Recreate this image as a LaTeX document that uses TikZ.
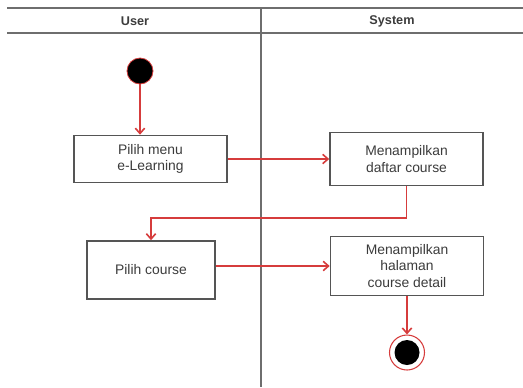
\documentclass[tikz,border=0pt]{standalone}
\usepackage{fontspec}
\setmainfont{Liberation Sans}
\usetikzlibrary{arrows.meta}
\definecolor{flowred}{RGB}{214,60,60}
\definecolor{boxgray}{RGB}{85,85,85}
\definecolor{txtgray}{RGB}{60,60,60}
\definecolor{lanegray}{RGB}{110,110,110}
\tikzset{
  actbox/.style={draw=boxgray, line width=1.2pt, fill=white, align=center, text=txtgray,
    font=\fontsize{10.4}{12.3}\selectfont, inner sep=0pt},
  arr/.style={draw=flowred, line width=1.2pt, -{Straight Barb[length=4pt,width=7pt]}},
  lane/.style={draw=lanegray, line width=1.4pt},
  head/.style={font=\fontsize{9.5}{11}\selectfont\bfseries, text=txtgray}
}
\begin{document}
\begin{tikzpicture}[x=0.75pt,y=-0.75pt]
\useasboundingbox (0,0) rectangle (523,387);
% swimlane frame
\draw[lane] (7,8) -- (523,8);
\draw[lane] (7,33) -- (523,33);
\draw[lane] (261,8) -- (261,387);
\node[head] (hu) at (135,21) {User};
\node[head] (hs) at (392,21) {System};
% nodes
\node[circle, fill=black, draw=flowred, line width=0.6pt, minimum size=26*0.75pt, inner sep=0pt] (start) at (140,71) {};
\node[actbox, minimum width=153*0.75pt, minimum height=47*0.75pt] (b1) at (150.5,159) {Pilih menu\\e-Learning};
\node[actbox, minimum width=153*0.75pt, minimum height=53*0.75pt] (b2) at (406.5,159) {Menampilkan\\daftar course};
\node[actbox, minimum width=128*0.75pt, minimum height=58*0.75pt] (b3) at (151,270) {Pilih course};
\node[actbox, minimum width=153*0.75pt, minimum height=59*0.75pt] (b4) at (407,266) {Menampilkan\\halaman\\course detail};
\node[circle, draw=flowred, line width=0.8pt, fill=white, minimum size=35*0.75pt, inner sep=0pt] (end) at (407,352.5) {};
\node[circle, fill=black, minimum size=25*0.75pt, inner sep=0pt] (endin) at (end.center) {};
% connectors
\draw[arr] (start.south) -- (start.south |- b1.north);
\draw[arr] (b1.east) -- (b2.west);
\draw[arr] (b2.south) -- (b2.south |- 0,218) -| (b3.north);
\draw[arr] (b3.east |- b4.west) -- (b4.west);
\draw[arr] (b4.south) -- (end.north);
\end{tikzpicture}
\end{document}
